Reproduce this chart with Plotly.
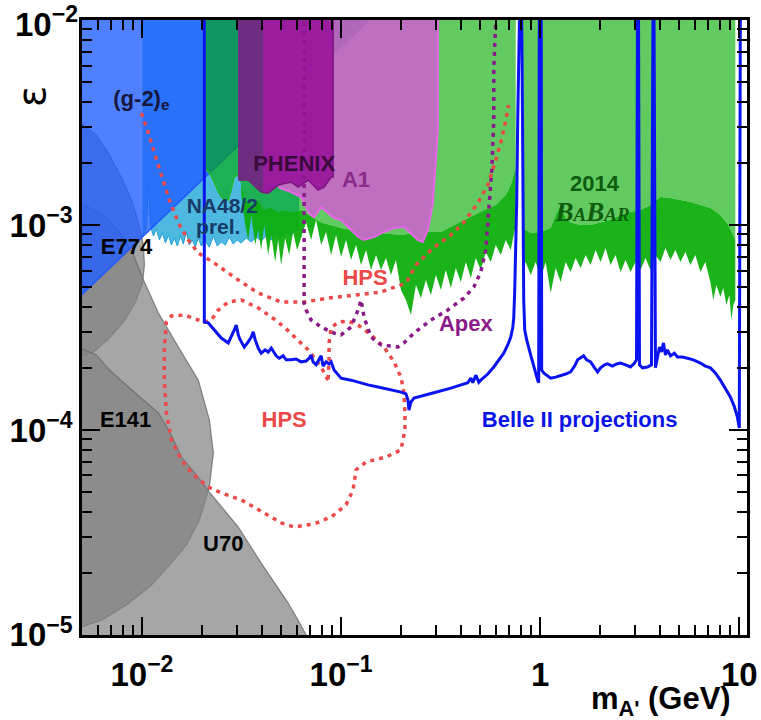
import plotly.graph_objects as go

# ---------------- data (mass in GeV, epsilon) ----------------
# gray beam-dump regions
e774_m = [0.0045, 0.00591, 0.00687, 0.00789, 0.00886, 0.00960, 0.01017, 0.01029, 0.01006, 0.00928, 0.00808, 0.00672, 0.00571, 0.0045]
e774_eps = [3.33e-3, 2.75e-3, 2.20e-3, 1.70e-3, 1.32e-3, 1.03e-3, 7.99e-4, 6.38e-4, 5.21e-4, 4.21e-4, 3.36e-4, 2.75e-4, 2.40e-4, 2.20e-4]

e141_m = [0.0045, 0.00627, 0.00771, 0.00907, 0.01017, 0.01210, 0.01524, 0.01919, 0.02180, 0.02283, 0.02180, 0.01942, 0.01671, 0.01406, 0.01116, 0.00836, 0.00627, 0.0045]
e141_eps = [1.32e-3, 1.14e-3, 9.25e-4, 7.14e-4, 5.39e-4, 3.72e-4, 2.54e-4, 1.75e-4, 1.12e-4, 7.72e-5, 5.27e-5, 3.64e-5, 2.75e-5, 2.24e-5, 1.75e-5, 1.40e-5, 1.18e-5, 1.06e-5]

u70_m = [0.0045, 0.00591, 0.00687, 0.00886, 0.01210, 0.01406, 0.01578, 0.01875, 0.02180, 0.03046, 0.0397, 0.04722, 0.05424, 0.06087, 0.06677, 0.0700, 0.0045]
u70_eps = [2.60e-4, 2.32e-4, 1.96e-4, 1.57e-4, 1.21e-4, 9.45e-5, 7.38e-5, 6.03e-5, 4.98e-5, 3.36e-5, 2.24e-5, 1.75e-5, 1.43e-5, 1.18e-5, 1.0e-5, 9.0e-6, 9.0e-6]

# NA48/2 lower boundary
na48_m = [0.01006, 0.01029, 0.01053, 0.01078, 0.01103, 0.01142, 0.01182, 0.01224, 0.01267, 0.01312, 0.01358, 0.01406, 0.01455, 0.01506, 0.01560, 0.01614, 0.01671, 0.01730, 0.01791, 0.01854, 0.01919, 0.01987, 0.02081, 0.02180, 0.02283, 0.02390, 0.02503, 0.02621, 0.02745, 0.02874, 0.03010, 0.0315, 0.03341, 0.0354, 0.0375, 0.0397, 0.04208, 0.0446, 0.04722, 0.0500, 0.0530, 0.0561, 0.05947, 0.06157]
na48_eps = [8.84e-4, 9.25e-4, 9.67e-4, 1.60e-3, 9.89e-4, 8.84e-4, 9.56e-4, 8.45e-4, 9.14e-4, 8.17e-4, 8.94e-4, 7.99e-4, 8.64e-4, 7.90e-4, 8.84e-4, 8.08e-4, 9.25e-4, 7.99e-4, 8.45e-4, 7.81e-4, 8.64e-4, 7.90e-4, 8.35e-4, 7.81e-4, 8.84e-4, 7.90e-4, 8.26e-4, 7.99e-4, 8.74e-4, 8.08e-4, 8.45e-4, 8.17e-4, 8.64e-4, 8.26e-4, 8.74e-4, 8.35e-4, 8.84e-4, 8.45e-4, 9.04e-4, 8.64e-4, 9.25e-4, 8.94e-4, 9.45e-4, 9.45e-4]

# (g-2) region (straight edge in log-log)
g2_m = [0.0045, 0.1398, 0.1398, 0.0045]
g2_eps = [4.16e-4, 0.01, 0.012, 0.012]

# BaBar 2014 : noisy limit (dark fringe) and smoothed envelope (light fill)
babar_fr_l_m = [0.0315, 0.03303, 0.03419, 0.0354, 0.03706, 0.03837, 0.0397, 0.04111, 0.04306, 0.0446, 0.04668, 0.04832, 0.0500, 0.05241, 0.05486, 0.05744, 0.06015,
                0.0630, 0.06677, 0.0707, 0.07492, 0.0794, 0.08409, 0.08912, 0.09438, 0.1, 0.1059, 0.1122, 0.1189, 0.1260, 0.1335, 0.1414, 0.1498, 0.1587, 0.1681, 0.1781, 0.1887, 0.1999, 0.2118, 0.2244, 0.2377, 0.2518, 0.2667, 0.2826, 0.2994, 0.3172, 0.3359, 0.3559, 0.3770, 0.3995, 0.4232, 0.4484, 0.4750, 0.5031, 0.5330, 0.5647, 0.5982, 0.6339, 0.6715, 0.7115, 0.7537]
babar_fr_l_eps = [1.401e-3, 1.0e-3, 8.45e-4, 1.119e-3, 7.99e-4, 9.45e-4, 7.55e-4, 1.0e-3, 7.14e-4, 8.94e-4, 6.60e-4, 8.45e-4, 6.38e-4, 8.64e-4, 7.14e-4, 9.25e-4, 7.55e-4,
                  8.74e-4, 1.03e-3, 8.45e-4, 1.058e-3, 7.99e-4, 9.25e-4, 7.14e-4, 8.94e-4, 6.98e-4, 8.45e-4, 6.75e-4, 7.99e-4, 6.38e-4, 7.55e-4, 6.03e-4, 7.14e-4, 6.03e-4, 6.90e-4, 5.70e-4, 6.75e-4, 4.82e-4, 4.31e-4, 3.64e-4, 5.10e-4, 4.40e-4, 5.39e-4, 4.56e-4, 5.70e-4, 4.82e-4, 6.03e-4, 4.93e-4, 6.17e-4, 5.27e-4, 6.60e-4, 5.51e-4, 6.90e-4, 6.03e-4, 7.38e-4, 6.60e-4, 7.99e-4, 7.14e-4, 8.45e-4, 7.55e-4, 1.0e-3]

babar_lg_l_m = [0.02057, 0.02129, 0.0223, 0.02310, 0.02418, 0.02503, 0.02621, 0.02714, 0.0281, 0.02909, 0.03010, 0.0315, 0.03303, 0.0354, 0.03837, 0.04111, 0.0446, 0.04832, 0.05241, 0.05744, 0.0630, 0.0794, 0.1, 0.1260, 0.1587, 0.1999, 0.2518, 0.3172, 0.3995, 0.5031, 0.5982, 0.6715, 0.7115, 0.7537]
babar_lg_l_eps = [1.81e-3, 1.854e-3, 1.734e-3, 1.60e-3, 1.449e-3, 1.37e-3, 1.324e-3, 1.324e-3, 1.481e-3, 1.714e-3, 1.754e-3, 1.621e-3, 1.324e-3, 1.252e-3, 1.324e-3, 1.184e-3, 1.22e-3, 1.157e-3, 1.184e-3, 1.157e-3, 1.184e-3, 1.03e-3, 9.67e-4, 9.25e-4, 9.14e-4, 8.94e-4, 9.25e-4, 9.25e-4, 1.03e-3, 1.157e-3, 1.252e-3, 1.401e-3, 1.567e-3, 1.92e-3]

babar_fr_r_m = [0.8172, 0.8458, 0.8961, 0.9493, 1.006, 1.0655, 1.129, 1.196, 1.267, 1.342, 1.422, 1.506, 1.596, 1.691, 1.791, 1.897, 2.010, 2.130, 2.256, 2.390, 2.532, 2.684, 2.842, 3.010, 3.190, 3.379, 3.580, 3.792, 4.018, 4.257, 4.510, 4.778, 5.062, 5.362, 5.681, 6.017, 6.377, 6.753, 7.157, 7.406, 7.67, 8.033, 8.31, 8.61, 8.91, 9.12, 9.33, 9.55]
babar_fr_r_eps = [6.03e-4, 6.60e-4, 5.70e-4, 6.60e-4, 5.51e-4, 6.60e-4, 4.66e-4, 6.17e-4, 5.27e-4, 6.60e-4, 5.90e-4, 6.90e-4, 6.17e-4, 7.14e-4, 6.38e-4, 7.55e-4, 6.60e-4, 7.72e-4, 6.38e-4, 7.14e-4, 5.90e-4, 6.75e-4, 5.90e-4, 6.60e-4, 6.03e-4, 6.90e-4, 6.03e-4, 7.14e-4, 6.60e-4, 7.72e-4, 6.75e-4, 7.55e-4, 6.60e-4, 7.38e-4, 6.38e-4, 7.14e-4, 5.90e-4, 6.60e-4, 5.27e-4, 4.31e-4, 5.10e-4, 4.45e-4, 4.93e-4, 4.07e-4, 4.56e-4, 3.44e-4, 4.07e-4, 4.31e-4]

babar_lg_r_m = [0.8172, 0.8961, 1.006, 1.129, 1.196, 1.267, 1.342, 1.422, 1.596, 1.791, 2.010, 2.256, 2.532, 2.842, 3.190, 3.580, 4.018, 4.510, 5.062, 5.681, 6.377, 7.157, 8.033, 8.81, 9.55]
babar_lg_r_eps = [9.67e-4, 9.14e-4, 9.25e-4, 9.67e-4, 1.119e-3, 1.252e-3, 1.082e-3, 1.03e-3, 1.0e-3, 1.0e-3, 1.03e-3, 1.058e-3, 1.119e-3, 1.157e-3, 1.184e-3, 1.252e-3, 1.37e-3, 1.354e-3, 1.324e-3, 1.295e-3, 1.252e-3, 1.211e-3, 1.119e-3, 1.0e-3, 8.45e-4]

# PHENIX and A1
phenix_m = [0.03046, 0.0912, 0.0912, 0.08912, 0.08217, 0.07667, 0.06832, 0.06087, 0.0561, 0.04832, 0.04306, 0.0397, 0.03419, 0.03046]
phenix_eps = [0.012, 0.012, 1.714e-3, 1.714e-3, 1.53e-3, 1.481e-3, 1.658e-3, 1.53e-3, 1.621e-3, 1.567e-3, 1.43e-3, 1.449e-3, 1.658e-3, 1.658e-3]
phenix_dark_m = [0.03046, 0.0406, 0.0406, 0.0397, 0.03419, 0.03046]
phenix_dark_eps = [0.012, 0.012, 1.449e-3, 1.449e-3, 1.658e-3, 1.658e-3]

a1_m = [0.04832, 0.3063, 0.3063, 0.2994, 0.2892, 0.2729, 0.2576, 0.2432, 0.2244, 0.2069, 0.1844, 0.1642, 0.1464, 0.1304, 0.1217, 0.1084, 0.1, 0.09224, 0.08604, 0.0794, 0.07321, 0.06912, 0.0630, 0.0561, 0.04832]
a1_eps = [0.012, 0.012, 2.91e-3, 2.006e-3, 1.28e-3, 9.45e-4, 8.26e-4, 8.45e-4, 9.14e-4, 9.78e-4, 9.67e-4, 9.25e-4, 8.74e-4, 8.45e-4, 8.74e-4, 9.78e-4, 1.058e-3, 1.082e-3, 1.14e-3, 1.22e-3, 1.09e-3, 1.14e-3, 1.37e-3, 1.449e-3, 1.53e-3]
a1_tint_m = [0.0912, 0.1398, 0.1398, 0.0912]
a1_tint_eps = [6.72e-3, 0.01, 0.012, 0.012]

# HPS projections (dotted)
hps_up_m = [0.00994, 0.01078, 0.01156, 0.01282, 0.01373, 0.01524, 0.01710, 0.01919, 0.02310, 0.03046, 0.03837, 0.05, 0.06523, 0.08604, 0.1162, 0.1587, 0.2118, 0.2377, 0.2892, 0.3559, 0.4136, 0.4861, 0.5455, 0.5982, 0.6486, 0.6952]
hps_up_eps = [3.52e-3, 2.81e-3, 2.24e-3, 1.658e-3, 1.324e-3, 1.023e-3, 8.45e-4, 7.30e-4, 6.52e-4, 5.39e-4, 4.66e-4, 4.21e-4, 4.21e-4, 4.40e-4, 4.56e-4, 4.71e-4, 5.21e-4, 6.38e-4, 7.72e-4, 8.94e-4, 1.03e-3, 1.28e-3, 1.567e-3, 2.075e-3, 2.75e-3, 3.85e-3]

hps_lo_m = [0.08604, 0.0794, 0.06832, 0.06087, 0.05179, 0.0446, 0.03837, 0.0315, 0.02714, 0.02418, 0.0223, 0.02057, 0.01919, 0.01633, 0.01406, 0.01327, 0.01296, 0.01296, 0.01327, 0.01406, 0.01578, 0.0177, 0.02154, 0.02503, 0.0315, 0.03837, 0.05, 0.05811, 0.07321, 0.08912, 0.1059, 0.1149, 0.1189, 0.1335, 0.1681, 0.1999, 0.2093, 0.2093, 0.2069, 0.1999, 0.1844, 0.1642, 0.1414, 0.1217, 0.1084, 0.0966, 0.08912, 0.08704, 0.08704, 0.08604]
hps_lo_eps = [1.75e-4, 2.03e-4, 2.46e-4, 2.75e-4, 3.18e-4, 3.56e-4, 3.94e-4, 4.31e-4, 4.21e-4, 3.85e-4, 3.44e-4, 3.36e-4, 3.44e-4, 3.64e-4, 3.60e-4, 3.36e-4, 2.54e-4, 1.75e-4, 1.21e-4, 8.94e-5, 7.14e-5, 6.17e-5, 5.27e-5, 4.93e-5, 4.56e-5, 4.07e-5, 3.52e-5, 3.36e-5, 3.48e-5, 3.76e-5, 4.31e-5, 5.10e-5, 6.38e-5, 6.98e-5, 7.38e-5, 7.99e-5, 1.0e-4, 1.21e-4, 1.52e-4, 1.81e-4, 2.15e-4, 2.54e-4, 2.91e-4, 3.25e-4, 3.40e-4, 3.36e-4, 3.15e-4, 2.66e-4, 2.20e-4, 1.75e-4]

# APEX projection (dotted)
apex_m = [0.06523, 0.06523, 0.06677, 0.0707, 0.0794, 0.09224, 0.1, 0.1122, 0.1217, 0.1260, 0.1304, 0.1414, 0.1587, 0.1931, 0.2069, 0.2323, 0.2826, 0.3437, 0.4136, 0.4642, 0.5031, 0.5330, 0.5518, 0.5713, 0.5846, 0.5846, 0.5982, 0.6053]
apex_eps = [0.012, 4.16e-4, 3.85e-4, 3.44e-4, 3.18e-4, 2.97e-4, 2.91e-4, 3.18e-4, 3.85e-4, 4.31e-4, 3.56e-4, 2.84e-4, 2.60e-4, 2.54e-4, 2.66e-4, 2.97e-4, 3.44e-4, 3.85e-4, 4.40e-4, 4.98e-4, 5.90e-4, 7.55e-4, 1.184e-3, 1.854e-3, 3.25e-3, 5.70e-3, 0.01, 0.012]

# Belle II projection
belle_m = [0.02057, 0.02057, 0.02154, 0.02310, 0.02503, 0.02714, 0.0281, 0.02909, 0.02976, 0.03046, 0.03116, 0.03265, 0.03419, 0.0354, 0.03622, 0.03706, 0.03837, 0.0397, 0.04159, 0.04306,
           0.0446, 0.04561, 0.04722, 0.04889, 0.05120, 0.0530, 0.0561, 0.05947, 0.0630, 0.06677, 0.06912, 0.0707, 0.07239, 0.07492, 0.07757, 0.0794, 0.08123, 0.08409, 0.08704, 0.08912,
           0.09224, 0.0966, 0.1, 0.1122, 0.1217, 0.1366, 0.1533, 0.1781, 0.1999, 0.2118, 0.2167, 0.2193, 0.2244, 0.2323, 0.2606, 0.2925, 0.3559, 0.4331, 0.4484, 0.4587,
           0.4750, 0.4917, 0.5031, 0.5455, 0.5846, 0.6194, 0.6561, 0.6873, 0.7115, 0.7281, 0.7366, 0.7451, 0.7537, 0.7624, 0.7713, 0.7802, 0.7893, 0.7985, 0.8078, 0.8172,
           0.8266, 0.8362, 0.8557, 0.8961, 0.9277, 0.9493, 0.9716, 0.9828, 0.99, 1.012, 1.0175, 1.041, 1.090, 1.129, 1.196, 1.267, 1.342, 1.422, 1.489, 1.542,
           1.596, 1.652, 1.711, 1.791, 1.876, 1.942, 2.010, 2.105, 2.180, 2.309, 2.418, 2.532, 2.684, 2.842, 2.977, 3.046, 3.081, 3.117, 3.153, 3.264,
           3.458, 3.622, 3.685, 3.728, 3.792, 3.881, 3.972, 4.064, 4.159, 4.257, 4.356, 4.510, 4.723, 4.889, 5.179, 5.487, 5.880, 6.377, 6.753, 7.157,
           7.58, 8.033, 8.509, 9.016, 9.439, 9.772, 9.998, 10.12]
belle_eps = [0.012, 3.36e-4, 3.33e-4, 3.08e-4, 2.81e-4, 2.66e-4, 2.84e-4, 3.08e-4, 3.25e-4, 2.91e-4, 2.75e-4, 2.54e-4, 2.69e-4, 2.84e-4, 3.01e-4, 2.75e-4, 2.51e-4, 2.37e-4, 2.46e-4, 2.40e-4,
             2.51e-4, 2.43e-4, 2.30e-4, 2.24e-4, 2.30e-4, 2.20e-4, 2.20e-4, 2.22e-4, 2.15e-4, 2.17e-4, 2.24e-4, 2.32e-4, 2.15e-4, 2.08e-4, 2.20e-4, 2.30e-4, 2.05e-4, 2.15e-4, 2.10e-4, 2.15e-4,
             1.96e-4, 1.85e-4, 1.79e-4, 1.75e-4, 1.71e-4, 1.66e-4, 1.62e-4, 1.57e-4, 1.53e-4, 1.50e-4, 1.40e-4, 1.25e-4, 1.37e-4, 1.43e-4, 1.47e-4, 1.52e-4, 1.60e-4, 1.70e-4, 1.79e-4, 1.70e-4,
             1.85e-4, 1.71e-4, 1.75e-4, 1.875e-4, 2.03e-4, 2.20e-4, 2.37e-4, 2.60e-4, 2.84e-4, 3.15e-4, 3.52e-4, 4.82e-4, 7.30e-4, 1.324e-3, 3.25e-3, 0.01, 0.012, 0.012, 0.01, 2.32e-3,
             4.31e-4, 3.08e-4, 2.75e-4, 2.32e-4, 2.03e-4, 1.90e-4, 1.75e-4, 1.70e-4, 0.012, 0.012, 1.96e-4, 1.90e-4, 1.835e-4, 1.79e-4, 1.81e-4, 1.835e-4, 1.875e-4, 1.92e-4, 2.05e-4, 2.20e-4,
             2.24e-4, 2.30e-4, 2.20e-4, 2.15e-4, 2.01e-4, 1.92e-4, 2.01e-4, 2.08e-4, 2.10e-4, 2.05e-4, 2.10e-4, 2.12e-4, 2.08e-4, 2.03e-4, 2.12e-4, 2.20e-4, 0.012, 0.012, 2.08e-4, 2.01e-4,
             2.03e-4, 2.08e-4, 0.012, 0.012, 2.01e-4, 2.32e-4, 2.54e-4, 2.40e-4, 2.66e-4, 2.32e-4, 2.46e-4, 2.30e-4, 2.37e-4, 2.27e-4, 2.27e-4, 2.24e-4, 2.20e-4, 2.12e-4, 2.05e-4, 2.01e-4,
             1.90e-4, 1.75e-4, 1.60e-4, 1.45e-4, 1.30e-4, 1.16e-4, 1.023e-4, 0.012]

# tick labels (the top y label is drawn separately so it stays inside the page)
x_tickvals = [0.01, 0.1, 1, 10]
x_ticktext = ["10<sup>\u22122</sup>", "10<sup>\u22121</sup>", "1", "10"]
y_tickvals = [1e-5, 1e-4, 1e-3, 1e-2]
y_ticktext = ["10<sup>\u22125</sup>", "10<sup>\u22124</sup>", "10<sup>\u22123</sup>", ""]
y_top_label = "10<sup>\u22122</sup>"

# labels: (text, mass, eps, color, size)
labels = [
    ("(g-2)<sub>e</sub>", 0.00994, 4.07e-3, "#16163f", 22),
    ("E774", 0.00836, 7.72e-4, "black", 22),
    ("E141", 0.00828, 1.094e-4, "black", 22),
    ("U70", 0.02561, 2.72e-5, "black", 22),
    ("NA48/2", 0.02532, 1.211e-3, "#173a66", 21),
    ("prel.", 0.02418, 9.56e-4, "#173a66", 21),
    ("PHENIX", 0.05811, 1.962e-3, "#3a0a3c", 22),
    ("A1", 0.1189, 1.639e-3, "#8a2a8a", 22),
    ("HPS", 0.1319, 5.45e-4, "#ec4a48", 22),
    ("HPS", 0.05179, 1.094e-4, "#ec4a48", 22),
    ("Apex", 0.4232, 3.22e-4, "#8a1a8a", 22),
    ("2014", 1.876, 1.567e-3, "#0e5c0e", 22),
    ("Belle II projections", 1.578, 1.094e-4, "#0a14e6", 22),
]

# ---------------- figure ----------------
fig = go.Figure()
TOP = 0.012


def area(xs, ys, fillcolor, line_color="rgba(0,0,0,0)", line_width=0):
    fig.add_trace(go.Scatter(x=xs, y=ys, mode="lines", fill="toself", fillcolor=fillcolor,
                             line=dict(color=line_color, width=line_width),
                             hoverinfo="skip", showlegend=False))


def line(xs, ys, color, width, dash="solid"):
    fig.add_trace(go.Scatter(x=xs, y=ys, mode="lines",
                             line=dict(color=color, width=width, dash=dash),
                             hoverinfo="skip", showlegend=False))


def closed_top(xs, ys):
    return list(xs) + [xs[-1], xs[0]], list(ys) + [TOP, TOP]


gray_fill = "rgba(129,129,129,0.71)"
gray_line = "rgba(105,105,105,0.8)"
area(e774_m, e774_eps, gray_fill, gray_line, 1.2)
area(e141_m, e141_eps, gray_fill, gray_line, 1.2)
area(u70_m, u70_eps, gray_fill, gray_line, 1.2)

# NA48/2
xs, ys = closed_top(na48_m, na48_eps)
area(xs, ys, "#4db8e0")
line(na48_m, na48_eps, "#1d9fd6", 1)

# (g-2) blue region
area(g2_m, g2_eps, "rgba(32,94,255,0.79)")
line(g2_m[:2], g2_eps[:2], "#2058ff", 1.5)

# BaBar: dark noisy fringe band between envelope and limit, light fill above envelope
env_l_m = babar_lg_l_m[11:]
env_l_eps = babar_lg_l_eps[11:]
area(babar_fr_l_m + env_l_m[::-1], babar_fr_l_eps + env_l_eps[::-1], "rgba(12,174,12,0.94)")
area(babar_fr_r_m + babar_lg_r_m[::-1], babar_fr_r_eps + babar_lg_r_eps[::-1], "rgba(12,174,12,0.94)")
xs, ys = closed_top(babar_lg_l_m, babar_lg_l_eps)
area(xs, ys, "rgba(0,171,0,0.62)")
xs, ys = closed_top(babar_lg_r_m, babar_lg_r_eps)
area(xs, ys, "rgba(0,171,0,0.62)")
line(babar_lg_l_m[:12], babar_lg_l_eps[:12], "#22bb22", 1.2)

# A1, PHENIX
area(a1_m, a1_eps, "#bf6fbf", "#e765e7", 2)
area(a1_tint_m, a1_tint_eps, "rgba(70,40,150,0.12)")
area(phenix_m, phenix_eps, "#9c1c9f", "#7d157f", 1.5)
area(phenix_dark_m, phenix_dark_eps, "#6e2d80")

# projections
line(hps_up_m, hps_up_eps, "#ec4a48", 3.5, "4px,5px")
line(hps_lo_m, hps_lo_eps, "#ec4a48", 3.5, "4px,5px")
line(apex_m, apex_eps, "#8a1a8a", 3.5, "4px,5px")
line(belle_m, belle_eps, "#0a14f0", 3)

# labels
for txt, mx, ey, col, sz in labels:
    fig.add_trace(go.Scatter(x=[mx], y=[ey], mode="text", text=["<b>" + txt + "</b>"],
                             textposition="middle center", cliponaxis=False,
                             textfont=dict(family="Liberation Sans", size=sz, color=col),
                             hoverinfo="skip", showlegend=False))
fig.add_trace(go.Scatter(x=[1.833], y=[1.131e-3], mode="text",
                         text=["<b><i>B<span style='font-size:19px'>A</span>B<span style='font-size:19px'>AR</span></i></b>"],
                         textposition="middle center",
                         textfont=dict(family="Liberation Serif", size=27, color="#0e5c0e"),
                         hoverinfo="skip", showlegend=False))

# invisible trace so the mirrored (top/right) tick axes exist
fig.add_trace(go.Scatter(x=[1.0], y=[1e-3], xaxis="x2", yaxis="y2", mode="markers",
                         marker=dict(opacity=0), hoverinfo="skip", showlegend=False))

minor_x = [k * 10.0 ** d for d in (-3, -2, -1, 0) for k in range(2, 10) if 0.005 <= k * 10.0 ** d <= 10.9]
minor_y = [k * 10.0 ** d for d in (-5, -4, -3) for k in range(2, 10)]

XR = [-2.30103, 1.0386]
YR = [-5.0005, -1.9995]
tickfont = dict(family="Liberation Sans", size=33, color="black", weight="bold")
tick_common = dict(type="log", ticks="inside", ticklen=18, tickwidth=2, tickcolor="black",
                   showgrid=False, zeroline=False, automargin=False)
minor_common = dict(ticks="inside", ticklen=10, tickwidth=2, tickcolor="black", tickmode="array")

fig.update_layout(
    width=761, height=720,
    margin=dict(l=82, r=14, t=20, b=85, autoexpand=False),
    paper_bgcolor="white", plot_bgcolor="white",
    showlegend=False,
    xaxis=dict(tick_common, range=XR, tickmode="array", tickvals=x_tickvals, ticktext=x_ticktext,
               showline=True, linecolor="black", linewidth=2.5, mirror=True,
               tickfont=tickfont, ticklabelstandoff=9, ticklabeloverflow="allow",
               minor=dict(minor_common, tickvals=minor_x)),
    yaxis=dict(tick_common, range=YR, tickmode="array", tickvals=y_tickvals, ticktext=y_ticktext,
               showline=True, linecolor="black", linewidth=2.5, mirror=True,
               tickfont=tickfont, ticklabeloverflow="allow",
               minor=dict(minor_common, tickvals=minor_y)),
    xaxis2=dict(tick_common, range=XR, overlaying="x", side="top", anchor="y2",
                tickmode="array", tickvals=x_tickvals, showticklabels=False, showline=False,
                minor=dict(minor_common, tickvals=minor_x)),
    yaxis2=dict(tick_common, range=YR, overlaying="y", side="right", anchor="x2",
                tickmode="array", tickvals=y_tickvals, showticklabels=False, showline=False,
                minor=dict(minor_common, tickvals=minor_y)),
    annotations=[
        dict(text="<b>" + y_top_label + "</b>", xref="paper", yref="paper",
             x=0, xshift=-3, xanchor="right", y=1.0 + 20.0 / 615.0, yanchor="top",
             showarrow=False, borderpad=0,
             font=dict(family="Liberation Sans", size=33, color="black")),
        dict(text="\u03b5", xref="paper", yref="paper", x=-0.077, y=0.876,
             showarrow=False, textangle=-90, xanchor="center", yanchor="middle",
             font=dict(family="DejaVu Sans", size=39, color="black")),
        dict(text="<b>m<sub>A'</sub> (GeV)</b>", xref="paper", yref="paper", x=0.871, y=-0.108,
             showarrow=False, xanchor="center", yanchor="middle",
             font=dict(family="Liberation Sans", size=31, color="black")),
    ],
)

fig.write_html("out.html")
